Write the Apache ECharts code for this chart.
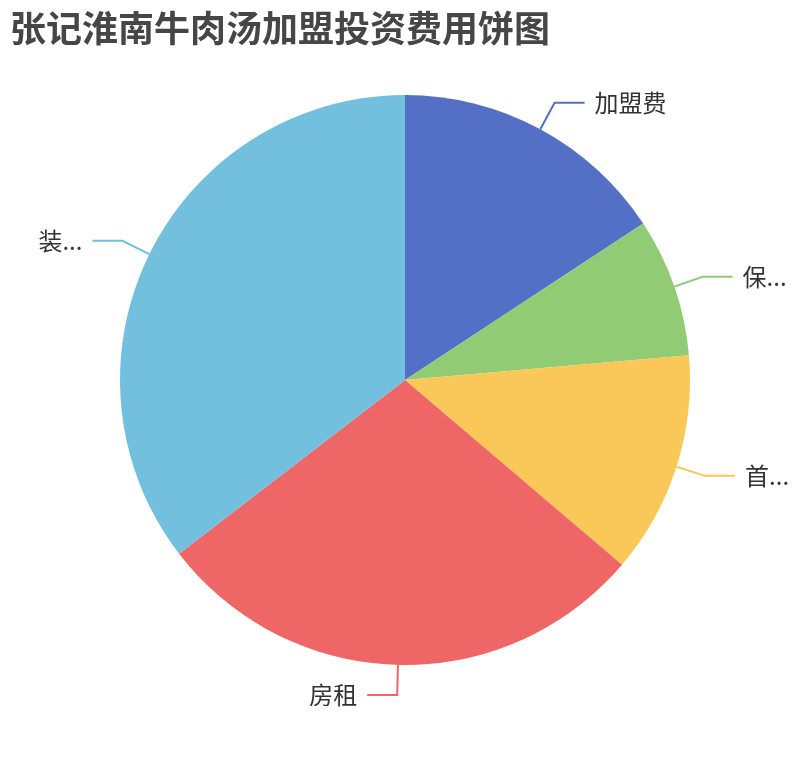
<!DOCTYPE html>
<html>
<head>
<meta charset="utf-8">
<script src="https://cdn.jsdelivr.net/npm/echarts@6/dist/echarts.min.js"></script>
<style>
  html, body { margin: 0; padding: 0; background: #fff; }
  #main { width: 810px; height: 760px; }
</style>
</head>
<body>
<div id="main"></div>
<script>
// 投资项目和金额（元）
var costNames = ['加盟费', '保证金', '首批进货', '房租', '装修费用'];
var costValues = [20000, 10000, 16000, 36000, 45000];

function buildPieChart()
{
    var myChart = echarts.init(document.getElementById('main'));

    var pieData = [];
    for (var i = 0; i < costNames.length; i++) {
        pieData.push({ name: costNames[i], value: costValues[i] });
    }

    var option = {
        color: ['#5470c6', '#91cc75', '#fac858', '#ee6666', '#73c0de'],
        title: {
            text: '张记淮南牛肉汤加盟投资费用饼图',
            left: 0,
            top: 0,
            padding: 10,
            textStyle: {
                fontSize: 36,
                fontWeight: 'bold',
                color: '#464646',
                fontFamily: 'Noto Sans CJK SC'
            }
        },
        series: [
            {
                name: '投资费用',
                type: 'pie',
                radius: [0, '75%'],
                center: ['50%', '50%'],
                label: {
                    fontSize: 24,
                    color: '#333',
                    fontFamily: 'Noto Sans CJK SC',
                    bleedMargin: 16,
                    distanceToLabelLine: 10
                },
                labelLine: {
                    length: 30,
                    length2: 30,
                    lineStyle: { width: 2 }
                },
                data: pieData
            }
        ]
    };

    myChart.setOption(option);
}

buildPieChart();
</script>
</body>
</html>
